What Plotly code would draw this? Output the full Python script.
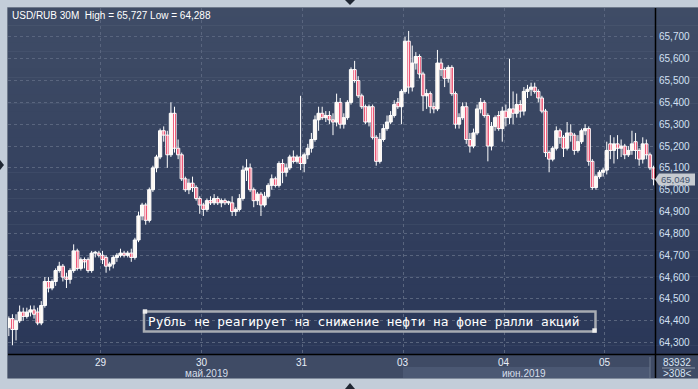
import plotly.graph_objects as go

# ---------------- data (USD/RUB, 30-minute bars) ----------------
day_labels = ["28", "29", "30", "31", "03", "04", "05"]
bars_per_day = [26, 28, 28, 28, 28, 28, 14]
month_labels = ["май.2019", "июн.2019"]
y_ticks = [64.3, 64.4, 64.5, 64.6, 64.7, 64.8, 64.9, 65.0, 65.1, 65.2, 65.3, 65.4, 65.5, 65.6, 65.7]
volume_text = "83932"
count_text = ">308<"
caption = "Рубль не реагирует на снижение нефти на фоне ралли акций"

opens = [
    # 28
    64.37, 64.41, 64.36, 64.40, 64.44, 64.42, 64.44, 64.45, 64.44, 64.39, 64.47, 64.58, 64.55,
    64.58, 64.63, 64.65, 64.60, 64.59, 64.63, 64.72, 64.64, 64.68, 64.68, 64.63, 64.71, 64.71,
    # 29
    64.70, 64.69, 64.65, 64.66, 64.69, 64.70, 64.71, 64.70, 64.71, 64.69, 64.77, 64.88, 64.93, 64.86,
    65.00, 65.10, 65.15, 65.27, 65.25, 65.16, 65.35, 65.19, 65.16, 65.05, 65.00, 65.03, 65.01, 64.96,
    # 30
    64.93, 64.91, 64.95, 64.94, 64.96, 64.94, 64.95, 64.94, 64.94, 64.90, 64.91, 64.96, 65.09, 65.10,
    65.00, 64.95, 64.98, 64.93, 64.97, 65.02, 65.05, 65.02, 65.12, 65.08, 65.10, 65.15, 65.13, 65.15,
    # 31
    65.12, 65.16, 65.19, 65.23, 65.32, 65.35, 65.33, 65.34, 65.32, 65.31, 65.40, 65.30, 65.33, 65.40,
    65.55, 65.50, 65.43, 65.38, 65.31, 65.38, 65.24, 65.13, 65.23, 65.28, 65.31, 65.34, 65.40, 65.38,
    # 03
    65.45, 65.68, 65.47, 65.58, 65.61, 65.53, 65.43, 65.44, 65.38, 65.37, 65.58, 65.55, 65.51, 65.56,
    65.44, 65.30, 65.33, 65.38, 65.23, 65.20, 65.26, 65.37, 65.40, 65.34, 65.20, 65.29, 65.34, 65.28,
    # 04
    65.36, 65.33, 65.37, 65.35, 65.39, 65.36, 65.45, 65.46, 65.47, 65.45, 65.42, 65.36, 65.17, 65.14,
    65.19, 65.27, 65.24, 65.19, 65.26, 65.25, 65.18, 65.22, 65.27, 65.28, 65.13, 65.01, 65.06, 65.08,
    # 05
    65.09, 65.21, 65.18, 65.21, 65.19, 65.20, 65.16, 65.18, 65.22, 65.18, 65.14, 65.21, 65.16, 65.10,
]
highs = [
    64.42, 64.43, 64.43, 64.47, 64.46, 64.46, 64.47, 64.47, 64.46, 64.49, 64.60, 64.60, 64.59,
    64.64, 64.67, 64.66, 64.62, 64.64, 64.75, 64.73, 64.69, 64.69, 64.69, 64.72, 64.72, 64.72,
    64.72, 64.70, 64.67, 64.70, 64.71, 64.73, 64.72, 64.72, 64.73, 64.78, 64.90, 64.94, 64.94, 65.01,
    65.11, 65.16, 65.28, 65.29, 65.27, 65.40, 65.38, 65.23, 65.17, 65.06, 65.05, 65.06, 65.02, 64.97,
    64.94, 64.96, 64.97, 64.98, 64.97, 64.96, 64.96, 64.95, 64.97, 64.92, 64.98, 65.11, 65.14, 65.12,
    65.01, 64.99, 64.99, 64.99, 65.03, 65.07, 65.06, 65.13, 65.14, 65.12, 65.16, 65.18, 65.16, 65.43,
    65.17, 65.21, 65.26, 65.34, 65.38, 65.38, 65.36, 65.36, 65.35, 65.44, 65.42, 65.35, 65.41, 65.56,
    65.59, 65.52, 65.44, 65.39, 65.39, 65.39, 65.25, 65.26, 65.30, 65.34, 65.36, 65.41, 65.42, 65.46,
    65.70, 65.727, 65.66, 65.63, 65.62, 65.54, 65.46, 65.45, 65.40, 65.64, 65.60, 65.56, 65.57, 65.57,
    65.45, 65.35, 65.40, 65.40, 65.26, 65.28, 65.39, 65.42, 65.41, 65.35, 65.31, 65.34, 65.36, 65.38,
    65.39, 65.60, 65.45, 65.44, 65.41, 65.47, 65.48, 65.49, 65.49, 65.46, 65.43, 65.37, 65.18, 65.20,
    65.29, 65.28, 65.25, 65.31, 65.30, 65.26, 65.25, 65.28, 65.30, 65.29, 65.14, 65.07, 65.09, 65.10,
    65.22, 65.25, 65.24, 65.25, 65.23, 65.21, 65.20, 65.27, 65.26, 65.19, 65.24, 65.23, 65.17, 65.11,
]
lows = [
    64.33, 64.288, 64.31, 64.39, 64.40, 64.41, 64.42, 64.41, 64.38, 64.38, 64.46, 64.53, 64.54,
    64.56, 64.62, 64.58, 64.55, 64.57, 64.62, 64.63, 64.63, 64.64, 64.62, 64.62, 64.69, 64.69,
    64.66, 64.62, 64.63, 64.64, 64.67, 64.69, 64.69, 64.69, 64.67, 64.68, 64.76, 64.86, 64.84, 64.85,
    64.99, 65.08, 65.14, 65.22, 65.10, 65.15, 65.17, 65.14, 65.04, 64.99, 64.98, 64.99, 64.95, 64.89,
    64.88, 64.90, 64.93, 64.93, 64.93, 64.92, 64.93, 64.93, 64.88, 64.88, 64.90, 64.95, 65.04, 64.99,
    64.92, 64.93, 64.88, 64.92, 64.96, 65.00, 65.01, 65.01, 65.03, 65.06, 65.09, 65.12, 65.12, 65.09,
    65.08, 65.14, 65.17, 65.22, 65.27, 65.32, 65.31, 65.30, 65.25, 65.29, 65.28, 65.28, 65.32, 65.39,
    65.49, 65.42, 65.37, 65.30, 65.29, 65.23, 65.11, 65.12, 65.22, 65.27, 65.30, 65.33, 65.37, 65.30,
    65.44, 65.44, 65.45, 65.55, 65.51, 65.36, 65.37, 65.35, 65.35, 65.36, 65.52, 65.47, 65.49, 65.43,
    65.28, 65.28, 65.32, 65.21, 65.17, 65.19, 65.25, 65.35, 65.33, 65.13, 65.18, 65.27, 65.27, 65.22,
    65.29, 65.30, 65.30, 65.33, 65.33, 65.34, 65.42, 65.43, 65.44, 65.40, 65.35, 65.15, 65.08, 65.13,
    65.18, 65.21, 65.15, 65.18, 65.22, 65.16, 65.17, 65.21, 65.25, 65.11, 65.00, 65.00, 65.05, 65.06,
    65.07, 65.14, 65.12, 65.14, 65.15, 65.14, 65.15, 65.16, 65.14, 65.11, 65.12, 65.14, 65.09, 65.02,
]
closes = [
    64.41, 64.36, 64.40, 64.44, 64.42, 64.44, 64.45, 64.43, 64.39, 64.47, 64.58, 64.55, 64.58,
    64.63, 64.65, 64.60, 64.59, 64.63, 64.72, 64.64, 64.68, 64.67, 64.63, 64.71, 64.71, 64.70,
    64.68, 64.65, 64.66, 64.69, 64.70, 64.71, 64.70, 64.71, 64.69, 64.77, 64.88, 64.93, 64.86, 65.00,
    65.10, 65.15, 65.27, 65.25, 65.16, 65.35, 65.19, 65.16, 65.05, 65.00, 65.03, 65.01, 64.96, 64.93,
    64.91, 64.95, 64.94, 64.96, 64.94, 64.95, 64.94, 64.945, 64.90, 64.91, 64.96, 65.09, 65.10, 65.00,
    64.95, 64.98, 64.93, 64.97, 65.02, 65.05, 65.02, 65.12, 65.08, 65.10, 65.15, 65.13, 65.15, 65.12,
    65.16, 65.19, 65.23, 65.32, 65.35, 65.33, 65.34, 65.32, 65.31, 65.40, 65.30, 65.33, 65.40, 65.55,
    65.50, 65.43, 65.38, 65.31, 65.38, 65.24, 65.13, 65.23, 65.28, 65.31, 65.34, 65.39, 65.38, 65.45,
    65.68, 65.47, 65.58, 65.61, 65.53, 65.43, 65.44, 65.38, 65.37, 65.58, 65.55, 65.51, 65.56, 65.44,
    65.30, 65.33, 65.38, 65.23, 65.20, 65.26, 65.37, 65.40, 65.34, 65.20, 65.29, 65.33, 65.28, 65.36,
    65.33, 65.37, 65.35, 65.39, 65.36, 65.45, 65.46, 65.47, 65.45, 65.42, 65.36, 65.17, 65.14, 65.19,
    65.27, 65.24, 65.19, 65.26, 65.25, 65.18, 65.22, 65.27, 65.28, 65.13, 65.01, 65.06, 65.08, 65.09,
    65.18, 65.18, 65.21, 65.19, 65.20, 65.16, 65.18, 65.21, 65.18, 65.14, 65.21, 65.16, 65.10, 65.049,
]

N = sum(bars_per_day)
assert len(opens) == len(highs) == len(lows) == len(closes) == N
xs = list(range(N))

# day boundaries (in bar-index units)
bounds = []
acc = 0
for n in bars_per_day[:-1]:
    acc += n
    bounds.append(acc - 0.5)


def rus(v):
    return f"{v:.3f}".replace(".", ",")


# ---------------- layout helpers (pixel -> paper) ----------------
W, H = 698, 389
L, R, T, B = 8, 655, 8, 354


def px(x):
    return (x - L) / (R - L)


def py(y):
    return (B - y) / (B - T)


fig = go.Figure()

# wicks: one line per bar, high to low
wx, wy = [], []
for i in xs:
    wx += [i, i, None]
    wy += [lows[i], highs[i], None]
fig.add_trace(go.Scatter(x=wx, y=wy, mode="lines", line=dict(color="#ffffff", width=1),
                         hoverinfo="skip", showlegend=False))

# bodies: rising (cream) and falling (red) bars from open to close
MIN_BODY = 0.004
for rising, fill in [(True, "#fbf1e8"), (False, "#e4002f")]:
    idx = [i for i in xs if (closes[i] >= opens[i]) == rising]
    fig.add_trace(go.Bar(
        x=idx,
        base=[min(opens[i], closes[i]) for i in idx],
        y=[max(abs(closes[i] - opens[i]), MIN_BODY) for i in idx],
        width=0.9,
        marker=dict(color=fill, line=dict(color="#ffffff", width=1)),
        hoverinfo="skip", showlegend=False,
    ))

shapes = []
# background gradient for chart panel
top_c = (63, 76, 102)
bot_c = (42, 55, 88)
nb = 40
for i in range(nb):
    t = i / (nb - 1)
    c = tuple(round(top_c[k] + (bot_c[k] - top_c[k]) * t) for k in range(3))
    y0 = T + (B - T) * i / nb
    y1 = T + (B - T) * (i + 1) / nb
    shapes.append(dict(type="rect", xref="paper", yref="paper", layer="below",
                       x0=px(L), x1=px(W), y0=py(y1 + 0.5), y1=py(y0),
                       fillcolor=f"rgb{c}", line=dict(width=0)))
# bottom axis band
shapes.append(dict(type="rect", xref="paper", yref="paper", layer="below",
                   x0=px(L), x1=px(W), y0=py(378), y1=py(B),
                   fillcolor="#3f4b65", line=dict(width=0)))
shapes.append(dict(type="rect", xref="paper", yref="paper", layer="below",
                   x0=px(403), x1=px(650), y0=py(378), y1=py(367),
                   fillcolor="#4b5873", line=dict(width=0)))
shapes.append(dict(type="line", xref="paper", yref="paper", layer="above",
                   x0=px(650), x1=px(650), y0=py(378), y1=py(357),
                   line=dict(color="#6c788d", width=1)))
# panel border lines
shapes.append(dict(type="line", xref="paper", yref="paper", layer="above",
                   x0=px(L), x1=px(W), y0=py(378.5), y1=py(378.5),
                   line=dict(color="#7f8a9b", width=1)))
shapes.append(dict(type="line", xref="paper", yref="paper", layer="above",
                   x0=px(7.5), x1=px(7.5), y0=py(378.5), y1=py(7.5),
                   line=dict(color="#6f7a8c", width=1)))
shapes.append(dict(type="line", xref="paper", yref="paper", layer="above",
                   x0=px(7.5), x1=px(W), y0=py(7.5), y1=py(7.5),
                   line=dict(color="#6f7a8c", width=1)))
# black axis separators
shapes.append(dict(type="line", xref="paper", yref="paper", layer="above",
                   x0=px(655.5), x1=px(655.5), y0=py(378), y1=py(T),
                   line=dict(color="#000000", width=1.5)))
shapes.append(dict(type="line", xref="paper", yref="paper", layer="above",
                   x0=px(L), x1=px(W), y0=py(354.5), y1=py(354.5),
                   line=dict(color="#000000", width=1.5)))
# last price marker
shapes.append(dict(type="path", xref="paper", yref="paper", layer="above",
                   path=(f"M {px(655)} {py(179.5)} L {px(659)} {py(173.5)} L {px(695)} {py(173.5)} "
                         f"L {px(695)} {py(185.5)} L {px(659)} {py(185.5)} Z"),
                   fillcolor="#c7cbd1", line=dict(width=0)))
# separator in volume box
shapes.append(dict(type="line", xref="paper", yref="paper", layer="above",
                   x0=px(662), x1=px(695), y0=py(368), y1=py(368),
                   line=dict(color="#8c97a8", width=1)))
# caption box with handles
shapes.append(dict(type="rect", xref="paper", yref="paper", layer="above",
                   x0=px(144), x1=px(595.5), y0=py(331.5), y1=py(311.5),
                   line=dict(color="#a7abb2", width=2.5), fillcolor="rgba(0,0,0,0)"))
for (hx, hy) in [(145, 311.5), (594.5, 330.5)]:
    shapes.append(dict(type="rect", xref="paper", yref="paper", layer="above",
                       x0=px(hx - 2.2), x1=px(hx + 2.2), y0=py(hy + 2.2), y1=py(hy - 2.2),
                       fillcolor="#eeeeee", line=dict(width=0)))
# small scroll markers on frame
tri_col = "#1f2733"
shapes.append(dict(type="path", xref="paper", yref="paper", layer="above",
                   path=f"M {px(345)} {py(0)} L {px(355)} {py(0)} L {px(350)} {py(5)} Z",
                   fillcolor=tri_col, line=dict(width=0)))
shapes.append(dict(type="path", xref="paper", yref="paper", layer="above",
                   path=f"M {px(345)} {py(389)} L {px(355)} {py(389)} L {px(350)} {py(383)} Z",
                   fillcolor=tri_col, line=dict(width=0)))
shapes.append(dict(type="path", xref="paper", yref="paper", layer="above",
                   path=f"M {px(0)} {py(160)} L {px(0)} {py(170)} L {px(4)} {py(165)} Z",
                   fillcolor=tri_col, line=dict(width=0)))

annotations = []
font_ui = "Liberation Sans, Arial, sans-serif"
annotations.append(dict(xref="paper", yref="paper", x=px(10), y=py(15.5), xanchor="left", yanchor="middle",
                        text=f"USD/RUB 30M  High = {rus(max(highs))} Low = {rus(min(lows))}",
                        showarrow=False, font=dict(family=font_ui, size=10, color="#ffffff")))
for b, lab in zip(bounds, day_labels[1:]):
    annotations.append(dict(xref="x", yref="paper", x=b, y=py(362.5), xanchor="center", yanchor="middle",
                            text=lab, showarrow=False, font=dict(family=font_ui, size=10, color="#e8eef8")))
annotations.append(dict(xref="paper", yref="paper", x=px(206), y=py(373), xanchor="center", yanchor="middle",
                        text=month_labels[0], showarrow=False,
                        font=dict(family=font_ui, size=10, color="#d6deea")))
annotations.append(dict(xref="paper", yref="paper", x=px(524), y=py(373), xanchor="center", yanchor="middle",
                        text=month_labels[1], showarrow=False,
                        font=dict(family=font_ui, size=10, color="#d6deea")))
annotations.append(dict(xref="paper", yref="paper", x=px(677), y=py(362), xanchor="center", yanchor="middle",
                        text=volume_text, showarrow=False,
                        font=dict(family=font_ui, size=10, color="#d9e4f3")))
annotations.append(dict(xref="paper", yref="paper", x=px(677), y=py(373.5), xanchor="center", yanchor="middle",
                        text=count_text, showarrow=False,
                        font=dict(family=font_ui, size=10, color="#d9e4f3")))
annotations.append(dict(xref="paper", yref="paper", x=px(659), y=py(179.5), xanchor="left", yanchor="middle",
                        text=rus(closes[-1]), showarrow=False,
                        font=dict(family=font_ui, size=9.5, color="#44546f")))
annotations.append(dict(xref="paper", yref="paper", x=px(146), y=py(321.5), xanchor="left", yanchor="middle",
                        text=caption, showarrow=False,
                        font=dict(family="DejaVu Sans Mono, monospace", size=12.8, color="#ffffff")))

grid_col = "#59657e"
fig.update_layout(
    width=W, height=H, autosize=False,
    margin=dict(l=L, r=W - R, t=T, b=H - B, pad=0),
    paper_bgcolor="#c3cdd9", plot_bgcolor="rgba(0,0,0,0)",
    showlegend=False, hovermode=False, barmode="overlay",
    shapes=shapes, annotations=annotations,
    xaxis=dict(range=[-0.23, 179.4], tickvals=bounds, showticklabels=False, ticks="",
               showgrid=True, gridcolor=grid_col, griddash="3px,3px", gridwidth=1,
               zeroline=False, showline=False, fixedrange=True),
    yaxis=dict(range=[64.248, 65.832], side="right", tickvals=y_ticks,
               ticktext=[rus(v) for v in y_ticks], ticks="", ticklabelstandoff=3,
               tickfont=dict(family=font_ui, size=10, color="#d3e0f3"),
               showgrid=True, gridcolor=grid_col, griddash="3px,3px", gridwidth=1,
               zeroline=False, showline=False, fixedrange=True),
)

fig.write_html("out.html")
